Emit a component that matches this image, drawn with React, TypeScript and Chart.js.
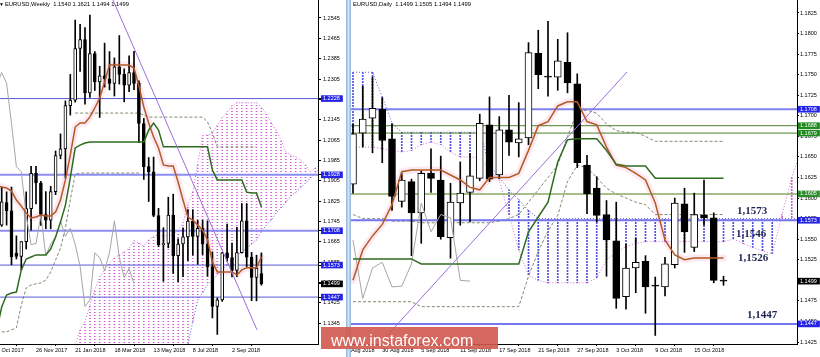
import React, { useEffect, useRef } from 'react';
import { Chart, registerables } from 'chart.js';

Chart.register(...registerables);

const FONT = '"Liberation Sans", Arial, Helvetica, sans-serif';
const SERIF = '"Liberation Serif", "Times New Roman", serif';

// ================= Weekly (left panel) =================
const wSymbol = 'EURUSD,Weekly';
const wTickIdx = [0, 8, 16, 24, 32, 40, 48];
const wTickLabels = ['1 Oct 2017', '26 Nov 2017', '21 Jan 2018', '18 Mar 2018', '13 May 2018', '8 Jul 2018', '2 Sep 2018'];
const wOpen = [1.1795, 1.1730, 1.1819, 1.1786, 1.1620, 1.1607, 1.1665, 1.1795, 1.1934, 1.1896, 1.1772, 1.1750, 1.1862, 1.2004, 1.2030, 1.2200, 1.2222, 1.2425, 1.2460, 1.2250, 1.2405, 1.2294, 1.2317, 1.2306, 1.2288, 1.2353, 1.2323, 1.2281, 1.2330, 1.2288, 1.2130, 1.1960, 1.1940, 1.1768, 1.1653, 1.1658, 1.1770, 1.1610, 1.1656, 1.1684, 1.1746, 1.1686, 1.1718, 1.1655, 1.1567, 1.1410, 1.1436, 1.1621, 1.1602, 1.1552, 1.1622, 1.1747, 1.1604, 1.1524, 1.1540];
const wHigh = [1.1836, 1.1880, 1.1861, 1.1880, 1.1688, 1.1665, 1.1861, 1.1961, 1.1961, 1.1902, 1.1862, 1.1883, 1.2022, 1.2089, 1.2219, 1.2323, 1.2537, 1.2520, 1.2507, 1.2556, 1.2413, 1.2355, 1.2446, 1.2413, 1.2388, 1.2476, 1.2345, 1.2396, 1.2414, 1.2298, 1.2150, 1.1996, 1.1998, 1.1796, 1.1720, 1.1840, 1.1852, 1.1676, 1.1720, 1.1791, 1.1791, 1.1749, 1.1750, 1.1747, 1.1625, 1.1444, 1.1623, 1.1734, 1.1660, 1.1721, 1.1815, 1.1815, 1.1623, 1.1612, 1.1621];
const wLow = [1.1669, 1.1725, 1.1730, 1.1574, 1.1597, 1.1553, 1.1636, 1.1710, 1.1814, 1.1729, 1.1716, 1.1716, 1.1850, 1.1991, 1.1915, 1.2163, 1.2214, 1.2335, 1.2206, 1.2233, 1.2260, 1.2154, 1.2273, 1.2262, 1.2238, 1.2285, 1.2215, 1.2255, 1.2263, 1.2055, 1.1910, 1.1823, 1.1763, 1.1645, 1.1509, 1.1641, 1.1540, 1.1508, 1.1527, 1.1590, 1.1612, 1.1576, 1.1614, 1.1529, 1.1365, 1.1300, 1.1430, 1.1589, 1.1526, 1.1527, 1.1620, 1.1567, 1.1433, 1.1432, 1.1494];
const wClose = [1.1732, 1.1822, 1.1786, 1.1606, 1.1607, 1.1665, 1.1795, 1.1934, 1.1896, 1.1772, 1.1750, 1.1862, 1.2004, 1.2030, 1.2200, 1.2222, 1.2425, 1.2460, 1.2250, 1.2405, 1.2294, 1.2317, 1.2306, 1.2288, 1.2353, 1.2323, 1.2281, 1.2330, 1.2288, 1.2130, 1.1960, 1.1940, 1.1768, 1.1653, 1.1658, 1.1770, 1.1610, 1.1656, 1.1684, 1.1746, 1.1686, 1.1718, 1.1655, 1.1567, 1.1410, 1.1436, 1.1621, 1.1602, 1.1552, 1.1622, 1.1747, 1.1604, 1.1524, 1.1560, 1.1499];
const wTenkan = [1.1884, 1.1880, 1.1876, 1.1864, 1.1829, 1.1805, 1.1778, 1.1758, 1.1762, 1.1770, 1.1766, 1.1766, 1.1782, 1.1829, 1.1908, 1.2006, 1.2116, 1.2132, 1.2132, 1.2156, 1.2191, 1.2230, 1.2293, 1.2360, 1.2360, 1.2360, 1.2360, 1.2360, 1.2348, 1.2278, 1.2195, 1.2132, 1.2077, 1.2034, 1.1967, 1.1963, 1.1963, 1.1900, 1.1829, 1.1762, 1.1750, 1.1731, 1.1711, 1.1672, 1.1585, 1.1546, 1.1546, 1.1546, 1.1546, 1.1534, 1.1554, 1.1562, 1.1562, 1.1562, 1.1605];
const wKijun = [1.1318, 1.1408, 1.1455, 1.1463, 1.1467, 1.1554, 1.1597, 1.1605, 1.1613, 1.1613, 1.1613, 1.1636, 1.1683, 1.1742, 1.1809, 1.1916, 1.2034, 1.2045, 1.2053, 1.2057, 1.2057, 1.2057, 1.2057, 1.2057, 1.2057, 1.2057, 1.2057, 1.2057, 1.2057, 1.2057, 1.2057, 1.2104, 1.2132, 1.2104, 1.2038, 1.2038, 1.2038, 1.2038, 1.2038, 1.2038, 1.2038, 1.2038, 1.2038, 1.2038, 1.1947, 1.1908, 1.1908, 1.1908, 1.1908, 1.1908, 1.1908, 1.1860, 1.1857, 1.1857, 1.1801];
const wChikou = [1.2281, 1.2330, 1.2288, 1.2130, 1.1960, 1.1940, 1.1768, 1.1653, 1.1658, 1.1770, 1.1610, 1.1656, 1.1684, 1.1746, 1.1686, 1.1718, 1.1655, 1.1567, 1.1410, 1.1436, 1.1621, 1.1602, 1.1552, 1.1622, 1.1747, 1.1604, 1.1524, 1.1560, 1.1499];
const wSpanStart = 15;
const wSpanA = [1.1180, 1.1259, 1.1318, 1.1349, 1.1416, 1.1475, 1.1526, 1.1554, 1.1581, 1.1601, 1.1613, 1.1624, 1.1640, 1.1668, 1.1660, 1.1648, 1.1672, 1.1687, 1.1691, 1.1687, 1.1691, 1.1691, 1.1711, 1.1739, 1.1809, 1.1860, 1.1971, 1.2081, 1.2085, 1.2093, 1.2124, 1.2152, 1.2175, 1.2199, 1.2211, 1.2211, 1.2211, 1.2211, 1.2211, 1.2195, 1.2171, 1.2132, 1.2104, 1.2065, 1.2018, 1.2006, 1.1998, 1.1986, 1.1967, 1.1939, 1.1955, 1.1967];
const wSpanB = [1.0880, 1.0880, 1.0890, 1.0890, 1.0900, 1.0900, 1.0920, 1.0920, 1.0950, 1.0950, 1.0950, 1.0980, 1.0980, 1.1000, 1.1000, 1.1020, 1.1020, 1.1050, 1.1050, 1.1080, 1.1080, 1.1100, 1.1120, 1.1180, 1.1260, 1.1350, 1.1436, 1.1463, 1.1495, 1.1514, 1.1534, 1.1554, 1.1573, 1.1593, 1.1613, 1.1624, 1.1640, 1.1656, 1.1672, 1.1703, 1.1731, 1.1750, 1.1778, 1.1798, 1.1821, 1.1845, 1.1860, 1.1876, 1.1896, 1.1916, 1.1935, 1.1955];
const wDash1Start = 1;
const wDash1 = [1.1310, 1.1310, 1.1318, 1.1326, 1.1416, 1.1483, 1.1495, 1.1499, 1.1503, 1.1514, 1.1546, 1.1593, 1.1640, 1.1719, 1.1829, 1.1931, 1.1935, 1.1935, 1.1935, 1.1935, 1.1935, 1.1935, 1.1935, 1.1935, 1.1935, 1.1935, 1.1935, 1.1935, 1.1935];
const wDash2Start = 16;
const wDash2 = [1.2171, 1.2171, 1.2171, 1.2171, 1.2171, 1.2171, 1.2171, 1.2171, 1.2171, 1.2171, 1.2171, 1.2171, 1.2171, 1.2171, 1.2163, 1.2155, 1.2155, 1.2155, 1.2155, 1.2155, 1.2155, 1.2155, 1.2155, 1.2155, 1.2155, 1.2155, 1.2155, 1.2136, 1.2093, 1.2038, 1.2038, 1.2038, 1.2038, 1.2038, 1.2038, 1.2038, 1.2038, 1.2038];
const wTrendX = [23.71, 53.1];
const wTrendY = [1.2616, 1.1318];
const wLevels = [1.2228, 1.1928, 1.1708, 1.1573, 1.1447];
const wAxisTicks = [1.2545, 1.2465, 1.2385, 1.2305, 1.2225, 1.2145, 1.2065, 1.1985, 1.1905, 1.1825, 1.1745, 1.1665, 1.1585, 1.1505, 1.1425, 1.1345];
const wAxisMarks = [1.2228, 1.1928, 1.1708, 1.1573, 1.1499, 1.1447];

// ================= Daily (right panel) =================
const dSymbol = 'EURUSD,Daily';
const dTickIdx = [-1, 3, 7, 11, 15, 19, 23, 27, 31, 35];
const dTickLabels = ['24 Aug 2018', '30 Aug 2018', '5 Sep 2018', '11 Sep 2018', '17 Sep 2018', '21 Sep 2018', '27 Sep 2018', '3 Oct 2018', '9 Oct 2018', '15 Oct 2018'];
const dOpen = [1.1617, 1.1679, 1.1697, 1.1708, 1.1672, 1.1596, 1.1620, 1.1582, 1.1630, 1.1622, 1.1552, 1.1594, 1.1607, 1.1624, 1.1689, 1.1628, 1.1683, 1.1667, 1.1673, 1.1776, 1.1747, 1.1747, 1.1765, 1.1739, 1.1640, 1.1612, 1.1580, 1.1548, 1.1480, 1.1515, 1.1523, 1.1493, 1.1492, 1.1519, 1.1593, 1.1540, 1.1579, 1.1576, 1.1499];
const dHigh = [1.1690, 1.1736, 1.1747, 1.1722, 1.1690, 1.1630, 1.1623, 1.1633, 1.1660, 1.1651, 1.1618, 1.1644, 1.1654, 1.1702, 1.1723, 1.1699, 1.1725, 1.1716, 1.1789, 1.1804, 1.1815, 1.1793, 1.1801, 1.1751, 1.1652, 1.1626, 1.1597, 1.1595, 1.1544, 1.1551, 1.1530, 1.1504, 1.1528, 1.1600, 1.1612, 1.1606, 1.1622, 1.1582, 1.1505];
const dLow = [1.1606, 1.1662, 1.1655, 1.1643, 1.1585, 1.1589, 1.1530, 1.1545, 1.1607, 1.1550, 1.1527, 1.1567, 1.1571, 1.1621, 1.1620, 1.1624, 1.1652, 1.1650, 1.1665, 1.1733, 1.1724, 1.1731, 1.1728, 1.1637, 1.1581, 1.1571, 1.1505, 1.1466, 1.1465, 1.1485, 1.1460, 1.1433, 1.1481, 1.1515, 1.1534, 1.1535, 1.1567, 1.1497, 1.1494];
const dClose = [1.1678, 1.1696, 1.1709, 1.1670, 1.1602, 1.1622, 1.1582, 1.1630, 1.1624, 1.1553, 1.1595, 1.1606, 1.1627, 1.1691, 1.1623, 1.1683, 1.1668, 1.1672, 1.1777, 1.1750, 1.1747, 1.1767, 1.1740, 1.1643, 1.1605, 1.1579, 1.1549, 1.1478, 1.1515, 1.1522, 1.1492, 1.1493, 1.1520, 1.1594, 1.1559, 1.1580, 1.1576, 1.1500, 1.1499];
const dTenkan = [1.1500, 1.1537, 1.1554, 1.1568, 1.1592, 1.1632, 1.1634, 1.1634, 1.1634, 1.1634, 1.1628, 1.1622, 1.1613, 1.1610, 1.1625, 1.1625, 1.1625, 1.1630, 1.1658, 1.1688, 1.1693, 1.1712, 1.1717, 1.1717, 1.1693, 1.1689, 1.1662, 1.1640, 1.1637, 1.1630, 1.1622, 1.1594, 1.1549, 1.1531, 1.1525, 1.1527, 1.1527, 1.1527, 1.1527];
const dKijun = [1.1526, 1.1526, 1.1526, 1.1526, 1.1526, 1.1526, 1.1526, 1.1520, 1.1520, 1.1520, 1.1520, 1.1520, 1.1520, 1.1520, 1.1520, 1.1520, 1.1520, 1.1520, 1.1559, 1.1577, 1.1595, 1.1644, 1.1671, 1.1672, 1.1672, 1.1672, 1.1658, 1.1641, 1.1639, 1.1639, 1.1639, 1.1624, 1.1624, 1.1624, 1.1624, 1.1624, 1.1624, 1.1624, 1.1624];
const dChikou = [1.1549, 1.1478, 1.1515, 1.1522, 1.1492, 1.1493, 1.1520, 1.1594, 1.1559, 1.1580, 1.1576, 1.1500, 1.1499];
const dSpanStart = 0;
const dSpanA = [1.1662, 1.1662, 1.1662, 1.1660, 1.1658, 1.1656, 1.1658, 1.1665, 1.1668, 1.1665, 1.1656, 1.1650, 1.1650, 1.1649, 1.1634, 1.1622, 1.1579, 1.1537, 1.1506, 1.1500, 1.1497, 1.1497, 1.1497, 1.1497, 1.1497, 1.1503, 1.1525, 1.1534, 1.1541, 1.1545, 1.1547, 1.1547, 1.1547, 1.1547, 1.1547, 1.1547, 1.1547, 1.1547, 1.1547, 1.1550, 1.1545, 1.1540, 1.1536, 1.1532, 1.1580, 1.1625, 1.1660];
const dSpanB = [1.1753, 1.1753, 1.1753, 1.1723, 1.1691, 1.1680, 1.1680, 1.1680, 1.1680, 1.1680, 1.1680, 1.1680, 1.1680, 1.1680, 1.1640, 1.1625, 1.1610, 1.1598, 1.1585, 1.1575, 1.1575, 1.1575, 1.1575, 1.1575, 1.1575, 1.1575, 1.1575, 1.1575, 1.1575, 1.1575, 1.1575, 1.1575, 1.1575, 1.1575, 1.1575, 1.1575, 1.1575, 1.1575, 1.1575, 1.1575, 1.1575, 1.1575, 1.1575, 1.1575, 1.1575, 1.1575, 1.1575];
const dDash1 = [1.1474, 1.1474, 1.1474, 1.1474, 1.1474, 1.1474, 1.1474, 1.1468, 1.1468, 1.1468, 1.1468, 1.1468, 1.1468, 1.1468, 1.1468, 1.1468, 1.1468, 1.1468, 1.1505, 1.1535, 1.1560, 1.1579, 1.1620, 1.1640, 1.1637, 1.1625, 1.1612, 1.1605, 1.1600, 1.1595, 1.1592, 1.1580, 1.1580, 1.1580, 1.1580, 1.1580, 1.1580, 1.1580, 1.1580];
const dDash2 = [1.1580, 1.1575, 1.1575, 1.1575, 1.1572, 1.1572, 1.1572, 1.1570, 1.1570, 1.1570, 1.1570, 1.1570, 1.1570, 1.1570, 1.1570, 1.1572, 1.1575, 1.1580, 1.1595, 1.1610, 1.1625, 1.1640, 1.1675, 1.1705, 1.1707, 1.1703, 1.1690, 1.1682, 1.1680, 1.1680, 1.1675, 1.1669, 1.1669, 1.1669, 1.1669, 1.1669, 1.1669, 1.1669, 1.1669];
const dTrendX = [3.08, 28.1];
const dTrendY = [1.14274, 1.17533];
const dLevels = [1.1708, 1.1688, 1.1679, 1.1605, 1.1573, 1.1447];
const dAxisTicks = [1.1825, 1.18, 1.1775, 1.175, 1.1725, 1.17, 1.1675, 1.165, 1.1625, 1.16, 1.1575, 1.155, 1.1525, 1.15, 1.1475, 1.145, 1.1425];
const dAxisMarks = [1.1708, 1.1688, 1.1679, 1.1605, 1.1573, 1.1499, 1.1447];
const dNoteText = ['1,1573', '1,1546', '1,1526', '1,1447'];
const dNoteLevel = [1.1573, 1.1546, 1.1526, 1.1447];

// ================= styles =================
const W_STYLE = {
  xMin: -0.163, xMax: 65.55, yMin: 1.12625, yMax: 1.26158, axisW: 28, tickLen: 3, tickPad: 2, body: 3,
  levelColors: ['#5a5ad8', '#8c8cf2', '#8c8cf2', '#5a5ad8', '#5a5ad8'],
  levelWidths: [1, 2, 2, 1, 1],
  markColors: ['#2424e6', '#2424e6', '#2424e6', '#2424e6', '#000000', '#2424e6'],
};
const D_STYLE = {
  xMin: -2.359, xMax: 45.538, yMin: 1.14226, yMax: 1.18408, axisW: 23, tickLen: 2, tickPad: 1, body: 7,
  levelColors: ['#8080f0', '#4f7f2f', '#4f7f2f', '#88a860', '#7373ee', '#7878ee'],
  levelWidths: [2, 1, 1, 1.5, 2, 2],
  markColors: ['#2424e6', '#1e8a1e', '#1e8a1e', '#2e8b2e', '#2424e6', '#000000', '#2424e6'],
  noteX: [39.38, 39.28, 39.49, 40.41],
  noteDy: [-9, -8, -1, -9],
};

const fmt = (v: number) => v.toFixed(4);
const pts = (start: number, vals: number[]) => vals.map((v, k) => ({ x: start + k, y: v }));

function dotPattern(color: string, period: number, on: number) {
  const c = document.createElement('canvas');
  c.width = 1;
  c.height = period;
  const g = c.getContext('2d') as CanvasRenderingContext2D;
  g.fillStyle = color;
  g.fillRect(0, 0, 1, on);
  return g.createPattern(c, 'repeat');
}

function lineDs(data: any[], color: string, width: number, order: number, extra: any = {}) {
  return { type: 'line', data, borderColor: color, borderWidth: width, pointRadius: 0, tension: 0, fill: false, order, ...extra };
}

function buildDatasets(p: any) {
  const ds: any[] = [];
  const n = p.open.length;
  const idx = Array.from({ length: n }, (_, k) => k);
  // tenkan halo
  ds.push(lineDs(pts(0, p.tenkan), 'rgba(244,175,208,0.28)', 7, 9, { borderJoinStyle: 'round', borderCapStyle: 'round' }));
  // cloud hatch
  ds.push({
    type: 'bar',
    data: p.spanA.map((a: number, k: number) => ({ x: p.spanStart + k, y: [Math.min(a, p.spanB[k]), Math.max(a, p.spanB[k])] })),
    backgroundColor: p.spanA.map((a: number, k: number) => (a >= p.spanB[k] ? p.upPat : p.downPat)),
    barThickness: 1, grouped: false, order: 8,
  });
  ds.push(lineDs(pts(p.spanStart, p.spanA), '#d46fd4', 1, 7, { borderDash: [1, 2] }));
  ds.push(lineDs(pts(p.spanStart, p.spanB), '#5c5cdc', 1, 7, { borderDash: [1, 2] }));
  p.dashes.forEach((d: any) => ds.push(lineDs(pts(d[0], d[1]), '#7f8c6c', 1, 6, { borderDash: [3, 2] })));
  p.levels.forEach((v: number, k: number) =>
    ds.push(lineDs([{ x: p.style.xMin, y: v }, { x: p.style.xMax, y: v }], p.style.levelColors[k], p.style.levelWidths[k], 5)));
  // candles
  ds.push({
    type: 'bar',
    data: idx.map((k) => ({ x: k, y: [p.low[k], p.high[k]] })),
    backgroundColor: '#000', barThickness: 1, grouped: false, order: 4,
  });
  ds.push({
    type: 'bar',
    data: idx.map((k) => ({ x: k, y: [Math.min(p.open[k], p.close[k]), Math.max(p.open[k], p.close[k])] })),
    backgroundColor: idx.map((k) => (p.close[k] > p.open[k] ? '#ffffff' : '#000000')),
    borderColor: '#000', borderWidth: 1, borderSkipped: false, barThickness: p.style.body, minBarLength: 1, grouped: false, order: 3,
  });
  ds.push(lineDs(pts(0, p.chikou), '#a6a6a6', 1, 2));
  ds.push(lineDs(pts(0, p.kijun), '#2f6b1f', 1.5, 1));
  ds.push(lineDs(pts(0, p.tenkan), '#b35a24', 1.5, 1));
  ds.push(lineDs([{ x: p.trendX[0], y: p.trendY[0] }, { x: p.trendX[1], y: p.trendY[1] }], '#9b6fdc', 1, 0));
  return ds;
}

function buildScales(s: any, tickIdx: number[], tickLabels: string[], axisTicks: number[], marks: number[]) {
  const markColor = (v: any) => {
    if (typeof v !== 'number') return null;
    const k = marks.findIndex((m) => Math.abs(m - v) < 1e-7);
    return k >= 0 ? s.markColors[k] : null;
  };
  return {
    x: {
      type: 'linear', min: s.xMin, max: s.xMax, offset: false,
      grid: { display: true, drawOnChartArea: false, drawTicks: true, tickLength: 2, color: '#000' },
      border: { display: true, color: '#000', width: 1 },
      ticks: {
        autoSkip: false, maxRotation: 0, minRotation: 0, align: 'start', padding: 1, color: '#000',
        font: { family: FONT, size: 5.5 },
        callback: (v: number) => { const k = tickIdx.indexOf(v); return k >= 0 ? tickLabels[k] : ''; },
      },
      afterBuildTicks: (sc: any) => { sc.ticks = tickIdx.map((v) => ({ value: v })); },
      afterFit: (sc: any) => { sc.height = 13; sc.paddingLeft = 0; sc.paddingRight = 0; },
    },
    y: {
      type: 'linear', position: 'right', min: s.yMin, max: s.yMax,
      grid: { display: true, drawOnChartArea: false, drawTicks: true, tickLength: s.tickLen, color: '#000' },
      border: { display: true, color: '#000', width: 1 },
      ticks: {
        autoSkip: false, padding: s.tickPad,
        font: { family: FONT, size: 5.5 },
        color: (c: any) => (markColor(c.tick && c.tick.value) ? '#ffffff' : '#000000'),
        showLabelBackdrop: (c: any) => !!markColor(c.tick && c.tick.value),
        backdropColor: (c: any) => markColor(c.tick && c.tick.value) || 'rgba(0,0,0,0)',
        backdropPadding: { left: 2, right: 3, top: 0, bottom: 0 },
        callback: (v: any) => Number(v).toFixed(4),
      },
      afterBuildTicks: (sc: any) => { sc.ticks = [...axisTicks, ...marks].map((v) => ({ value: v })); },
      afterFit: (sc: any) => { sc.width = s.axisW; sc.paddingTop = 0; sc.paddingBottom = 0; },
    },
  };
}

const bgPlugin = {
  id: 'bg',
  beforeDraw(chart: any) {
    const c = chart.ctx;
    c.save();
    c.fillStyle = '#ffffff';
    c.fillRect(0, 0, chart.width, chart.height);
    c.restore();
  },
};

function overlayPlugin(o: any) {
  return {
    id: 'overlay',
    afterDraw(chart: any) {
      const ctx = chart.ctx;
      ctx.save();
      ctx.fillStyle = '#000';
      ctx.textAlign = 'left';
      ctx.textBaseline = 'alphabetic';
      if (o.arrow) {
        ctx.font = `5px ${FONT}`;
        ctx.fillText('\u25BC', o.titleX - 6, 6);
      }
      ctx.font = `5.8px ${FONT}`;
      ctx.fillText(o.title, o.titleX, 6);
      if (o.notes) {
        const xs = chart.scales.x;
        const ys = chart.scales.y;
        ctx.font = `bold 11px ${SERIF}`;
        ctx.fillStyle = '#1c2451';
        ctx.textBaseline = 'middle';
        o.notes.text.forEach((t: string, k: number) => {
          ctx.fillText(t, xs.getPixelForValue(o.notes.x[k]), ys.getPixelForValue(o.notes.level[k]) + o.notes.dy[k]);
        });
      }
      ctx.restore();
    },
  };
}

function makeConfig(datasets: any[], scales: any, overlay: any) {
  return {
    type: 'bar',
    data: { datasets },
    options: {
      responsive: false, animation: false, devicePixelRatio: 1, events: [],
      layout: { padding: 0 },
      plugins: { legend: { display: false }, tooltip: { enabled: false }, title: { display: false } },
      scales,
    },
    plugins: [bgPlugin, overlayPlugin(overlay)],
  } as any;
}

export default function App() {
  const wRef = useRef<HTMLCanvasElement>(null);
  const dRef = useRef<HTMLCanvasElement>(null);

  useEffect(() => {
    const wPink = dotPattern('#d25cd2', 3, 1);
    const wBlue = dotPattern('#5a5ad8', 3, 1);
    const dPink = dotPattern('#c866c8', 3, 2);
    const dBlue = dotPattern('#5050e0', 3, 2);

    const wLast = wOpen.length - 1;
    const wDatasets = buildDatasets({
      open: wOpen, high: wHigh, low: wLow, close: wClose, tenkan: wTenkan, kijun: wKijun, chikou: wChikou,
      spanStart: wSpanStart, spanA: wSpanA, spanB: wSpanB, upPat: wPink, downPat: wBlue,
      dashes: [[wDash1Start, wDash1], [wDash2Start, wDash2]], levels: wLevels,
      trendX: wTrendX, trendY: wTrendY, style: W_STYLE,
    });
    const wChart = new Chart(wRef.current as HTMLCanvasElement, makeConfig(
      wDatasets,
      buildScales(W_STYLE, wTickIdx, wTickLabels, wAxisTicks, wAxisMarks),
      { title: `${wSymbol}  ${fmt(wOpen[wLast])} ${fmt(wHigh[wLast])} ${fmt(wLow[wLast])} ${fmt(wClose[wLast])}`, titleX: 9, arrow: true },
    ));

    const dLast = dOpen.length - 1;
    const dDatasets = buildDatasets({
      open: dOpen, high: dHigh, low: dLow, close: dClose, tenkan: dTenkan, kijun: dKijun, chikou: dChikou,
      spanStart: dSpanStart, spanA: dSpanA, spanB: dSpanB, upPat: dPink, downPat: dBlue,
      dashes: [[0, dDash1], [0, dDash2]], levels: dLevels,
      trendX: dTrendX, trendY: dTrendY, style: D_STYLE,
    });
    const dChart = new Chart(dRef.current as HTMLCanvasElement, makeConfig(
      dDatasets,
      buildScales(D_STYLE, dTickIdx, dTickLabels, dAxisTicks, dAxisMarks),
      {
        title: `${dSymbol}  ${fmt(dOpen[dLast])} ${fmt(dHigh[dLast])} ${fmt(dLow[dLast])} ${fmt(dClose[dLast])}`,
        titleX: 23,
        notes: { text: dNoteText, level: dNoteLevel, x: D_STYLE.noteX, dy: D_STYLE.noteDy },
      },
    ));

    return () => {
      wChart.destroy();
      dChart.destroy();
    };
  }, []);

  return (
    <div style={{ position: 'fixed', left: 0, top: 0, width: 820, height: 357, overflow: 'hidden', background: '#fff' }}>
      <canvas ref={dRef} width={490} height={357} style={{ position: 'absolute', left: 330, top: 0, width: 490, height: 357 }} />
      <canvas ref={wRef} width={350} height={357} style={{ position: 'absolute', left: -4, top: 0, width: 350, height: 357 }} />
      <div style={{ position: 'absolute', left: 346, top: 0, width: 5, height: 357, background: 'linear-gradient(to right, #8fb3da, #cfe2f5, #8fb3da)' }} />
      <div style={{ position: 'absolute', left: 321, top: 327, width: 177, height: 22, background: 'rgba(208,88,78,0.9)' }}>
        <div style={{ position: 'absolute', left: 10, top: 5, color: '#fff', font: `16px ${FONT}`, lineHeight: 'normal', whiteSpace: 'nowrap' }}>
          www.instaforex.com
        </div>
      </div>
    </div>
  );
}
